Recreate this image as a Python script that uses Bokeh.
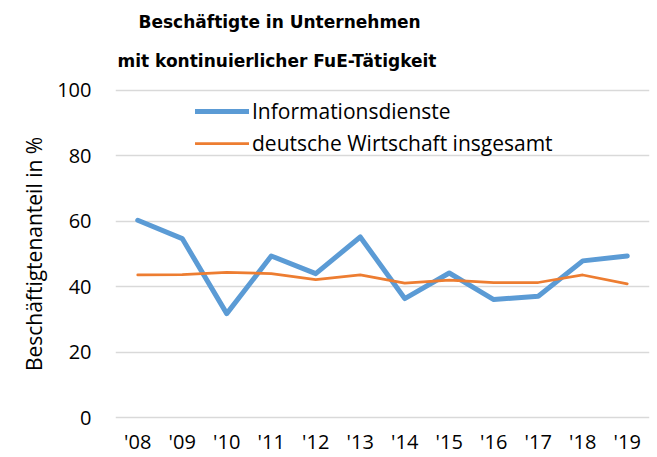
from bokeh.plotting import figure
from bokeh.models import Range1d, FixedTicker, Legend, LegendItem, Title
from bokeh.embed import file_html
from bokeh.resources import INLINE

years = ["'08", "'09", "'10", "'11", "'12", "'13", "'14", "'15", "'16", "'17", "'18", "'19"]
informationsdienste = [60.3, 54.7, 31.8, 49.4, 44.0, 55.2, 36.4, 44.2, 36.1, 37.1, 47.9, 49.4]
deutsche_wirtschaft = [43.6, 43.7, 44.4, 44.0, 42.2, 43.6, 41.1, 42.0, 41.3, 41.3, 43.6, 40.9]
y_ticks = [0, 20, 40, 60, 80, 100]
series_names = ["Informationsdienste", "deutsche Wirtschaft insgesamt"]
title_lines = ["Beschäftigte in Unternehmen", "mit kontinuierlicher FuE-Tätigkeit"]
y_label = "Beschäftigtenanteil in %"

FONT = "Open Sans"
TFONT = "DejaVu Sans"

p = figure(width=657, height=457, x_range=years, y_range=Range1d(-0.5, 100.5),
           output_backend="svg", toolbar_location=None,
           min_border_left=115, min_border_right=8, min_border_top=88, min_border_bottom=38)
p.x_range.range_padding = 0
p.outline_line_color = None
p.background_fill_color = "white"
p.border_fill_color = "white"

r1 = p.line(years, informationsdienste, line_color="#5B9BD5", line_width=5,
            line_join="round", line_cap="round")
r2 = p.line(years, deutsche_wirtschaft, line_color="#ED7D31", line_width=2.75,
            line_join="round", line_cap="round")

p.xgrid.grid_line_color = None
p.ygrid.grid_line_color = "#D9D9D9"
p.ygrid.grid_line_width = 1.3
p.yaxis.ticker = FixedTicker(ticks=y_ticks)

for ax in (p.xaxis[0], p.yaxis[0]):
    ax.axis_line_color = None
    ax.major_tick_line_color = None
    ax.minor_tick_line_color = None
    ax.major_tick_out = 0
    ax.major_tick_in = 0
    ax.minor_tick_out = 0
    ax.major_label_text_font = FONT
    ax.major_label_text_font_size = "20px"
    ax.major_label_text_color = "#000000"

p.xaxis.major_label_standoff = 8
p.yaxis.major_label_standoff = 24
p.yaxis.axis_label = y_label
p.yaxis.axis_label_text_font = FONT
p.yaxis.axis_label_text_font_size = "21px"
p.yaxis.axis_label_text_font_style = "normal"
p.yaxis.axis_label_text_color = "#000000"
p.yaxis.axis_label_standoff = 6

legend = Legend(items=[LegendItem(label=series_names[0], renderers=[r1]),
                       LegendItem(label=series_names[1], renderers=[r2])],
                location=(80, 262), orientation="vertical",
                padding=0, margin=0, spacing=4,
                glyph_width=54, glyph_height=28, label_height=28, label_standoff=3,
                label_text_font=FONT, label_text_font_size="21px", label_text_color="#000000",
                background_fill_alpha=0, border_line_color=None)
p.add_layout(legend)

t2 = Title(text=title_lines[1], align="left", offset=2, standoff=35,
           text_font=TFONT, text_font_style="bold", text_font_size="17px", text_color="#000000")
t1 = Title(text=title_lines[0], align="left", offset=23, standoff=0,
           text_font=TFONT, text_font_style="bold", text_font_size="17px", text_color="#000000")
p.add_layout(t2, "above")
p.add_layout(t1, "above")

open("out.html", "w").write(file_html(p, INLINE))
